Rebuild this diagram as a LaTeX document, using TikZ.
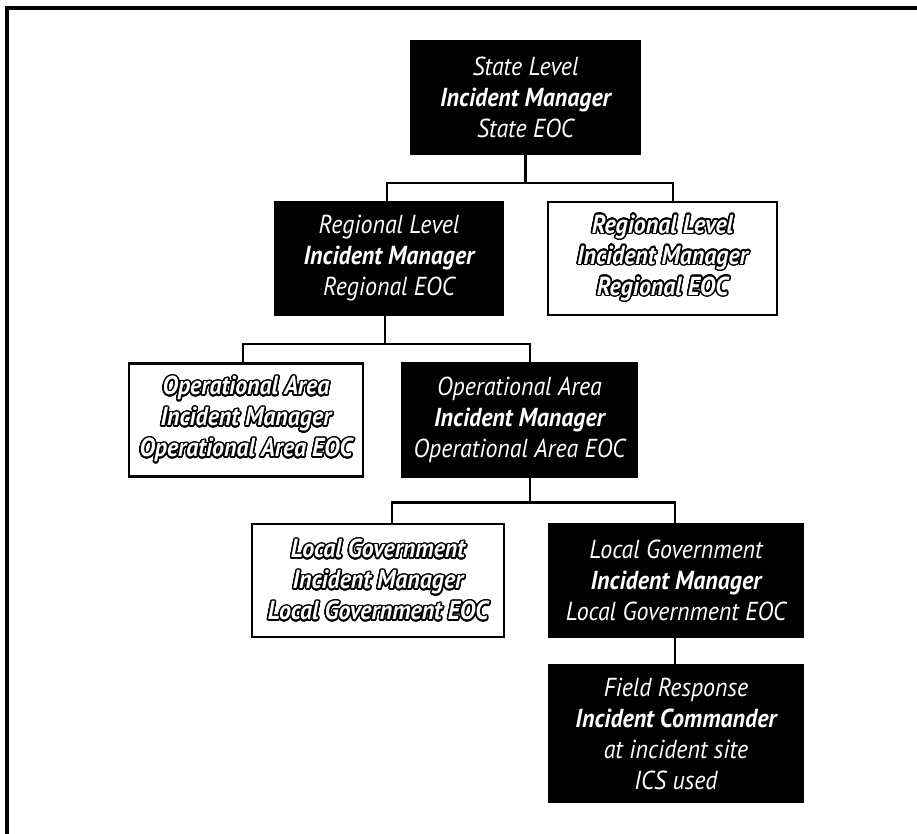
\documentclass[tikz,border=0pt]{standalone}
\usepackage{fontspec}
\setmainfont[FakeStretch=0.92]{PT Sans}
\usepackage[copies]{contour}
\contourlength{0.75pt}
\contournumber{24}
\usetikzlibrary{positioning}

\newcommand{\outl}[1]{\contour{black}{#1}} % white letters, black rim

\begin{document}
\begin{tikzpicture}[x=0.5pt,y=-0.5pt,% one unit is one pixel of the scan, y runs down
        every node/.style={align=center,inner sep=0pt,minimum height=56.5pt},
        darkbox/.style={draw=black,line width=1.2pt,fill=black,text=white,
                font=\fontsize{13}{15.5}\selectfont\itshape},
        lightbox/.style={draw=black,line width=1.2pt,fill=white,text=white,
                font=\fontsize{13}{15.5}\selectfont\bfseries\itshape},
        link/.style={line width=1.2pt}]
\useasboundingbox (0,0) rectangle (917,834);
\draw[line width=1.7pt] (7,834) -- (7,8) -- (917,8); % frame, top and left only

% top level
\node[darkbox,minimum width=114.5pt] (state) at (525.5,97.5)
        {State Level\\\textbf{Incident Manager}\\State EOC};
% regions
\node[darkbox,minimum width=114pt] (regB) at (389,258.5)
        {Regional Level\\\textbf{Incident Manager}\\Regional EOC};
\node[lightbox,minimum width=114.5pt] (regW) at (662.5,258.5)
        {\outl{Regional Level}\\\outl{Incident Manager}\\\outl{Regional EOC}};
% operational areas
\node[lightbox,minimum width=117pt] (oaW) at (246,420)
        {\outl{Operational Area}\\\outl{Incident Manager}\\\outl{Operational Area EOC}};
\node[darkbox,minimum width=117.5pt] (oaB) at (519.5,420)
        {Operational Area\\\textbf{Incident Manager}\\Operational Area EOC};
% local government
\node[lightbox,minimum width=126pt] (lgW) at (378,580.5)
        {\outl{Local Government}\\\outl{Incident Manager}\\\outl{Local Government EOC}};
\node[darkbox,minimum width=127pt] (lgB) at (676,580.5)
        {Local Government\\\textbf{Incident Manager}\\Local Government EOC};
% field
\node[darkbox,minimum width=127pt,minimum height=68.5pt] (field) at (676,733.5)
        {Field Response\\\textbf{Incident Commander}\\at incident site\\ICS used};

% connectors
\draw[link] (state.south) -- ++(0,28) coordinate (bus1);
\draw[link] (bus1) -| ([xshift=-1pt]regB.north);
\draw[link] (bus1) -| ([xshift=5.25pt]regW.north);

\draw[link] ([xshift=-2pt]regB.south) -- ++(0,28) coordinate (bus2);
\draw[link] (bus2) -| ([xshift=-1.5pt]oaW.north);
\draw[link] (bus2) -| ([xshift=5.25pt]oaB.north);

\draw[link] ([xshift=5.25pt]oaB.south) -- ++(0,25) coordinate (bus3);
\draw[link] (bus3) -| ([xshift=7pt]lgW.north);
\draw[link] (bus3) -| ([xshift=-0.5pt]lgB.north);

\draw[link] ([xshift=-0.5pt]lgB.south) -- ([xshift=-0.5pt]field.north);
\end{tikzpicture}
\end{document}
